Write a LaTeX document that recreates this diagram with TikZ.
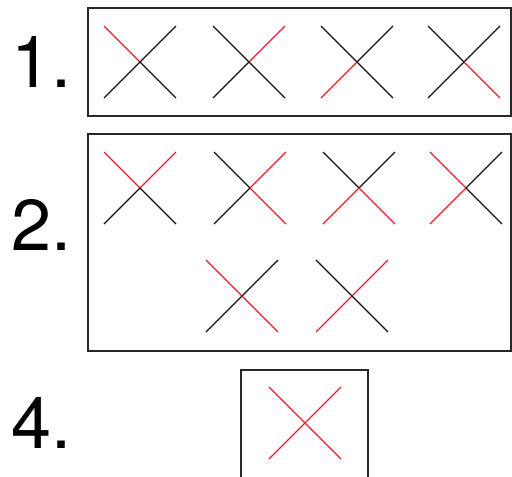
\documentclass[tikz,border=0pt]{standalone}
\usepackage{fontspec}
\setmainfont{TeX Gyre Heros}
\definecolor{xred}{RGB}{232,32,44}
\definecolor{xblack}{RGB}{20,20,20}
\definecolor{boxgray}{RGB}{40,40,40}
\newcommand\crossmark[6]{% name, center, UL, UR, LL, LR colors
  \coordinate (#1) at #2;
  \draw[xline,#3] (#1) -- ++(-36,-36);
  \draw[xline,#4] (#1) -- ++(36,-36);
  \draw[xline,#5] (#1) -- ++(-36,36);
  \draw[xline,#6] (#1) -- ++(36,36);
}
\begin{document}
\begin{tikzpicture}[x=1pt,y=-1pt,
  xline/.style={line width=1.4pt},
  framebox/.style={draw=boxgray,line width=1.6pt},
  numlabel/.style={anchor=base west,inner sep=0pt,font=\fontsize{72}{72}\selectfont}]
\useasboundingbox (0,0) rectangle (512,477);
\clip (0,0) rectangle (512,477);
% frames
\draw[framebox] (88,8) rectangle (511,116);
\draw[framebox] (88,134) rectangle (511,351);
\draw[framebox] (241,370) rectangle (368,485);
% labels
\node[numlabel] (l1) at (11,87) {1.};
\node[numlabel] (l2) at (11,250) {2.};
\node[numlabel] (l4) at (11,448) {4.};
% row 1
\crossmark{a1}{(140,62)}{xred}{xblack}{xblack}{xblack}
\crossmark{a2}{(249,62)}{xblack}{xred}{xblack}{xblack}
\crossmark{a3}{(357,62)}{xblack}{xblack}{xred}{xblack}
\crossmark{a4}{(464,62)}{xblack}{xblack}{xblack}{xred}
% row 2
\crossmark{b1}{(140,188)}{xred}{xred}{xblack}{xblack}
\crossmark{b2}{(250,188)}{xblack}{xred}{xblack}{xred}
\crossmark{b3}{(359,188)}{xblack}{xblack}{xred}{xred}
\crossmark{b4}{(466,188)}{xred}{xblack}{xred}{xblack}
\crossmark{b5}{(242,296)}{xred}{xblack}{xblack}{xred}
\crossmark{b6}{(352,296)}{xblack}{xred}{xred}{xblack}
% row 4
\crossmark{c1}{(305,423)}{xred}{xred}{xred}{xred}
\end{tikzpicture}
\end{document}
